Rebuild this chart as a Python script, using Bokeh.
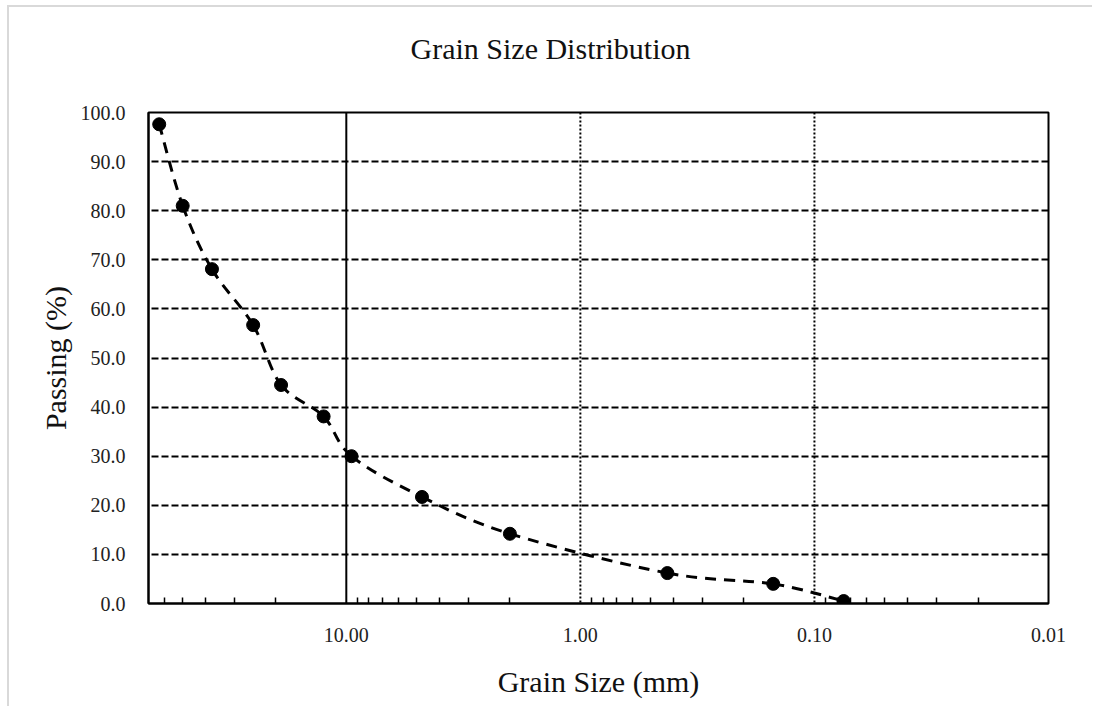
import numpy as np
from bokeh.plotting import figure
from bokeh.models import Range1d, FixedTicker, PrintfTickFormatter, Span, Title
from bokeh.embed import file_html
from bokeh.resources import INLINE

# ---- data ----
grain_size_mm = [63.0, 50.0, 37.5, 25.0, 19.0, 12.5, 9.5, 4.75, 2.0, 0.425, 0.15, 0.075]
passing_pct = [97.6, 81.0, 68.1, 56.7, 44.5, 38.1, 30.0, 21.7, 14.2, 6.2, 4.0, 0.5]
x_major_ticks = [10, 1, 0.1, 0.01]
x_tick_labels = ["10.00", "1.00", "0.10", "0.01"]
y_ticks = [0, 10, 20, 30, 40, 50, 60, 70, 80, 90, 100]
title_text = "Grain Size Distribution"
x_title = "Grain Size (mm)"
y_title = "Passing (%)"

FONT = "Liberation Serif"

p = figure(
    width=1085, height=701,
    x_axis_type="log",
    x_range=Range1d(70, 0.01),
    y_range=Range1d(0, 100),
    output_backend="svg",
    toolbar_location=None,
    min_border_left=139, min_border_right=46,
    min_border_top=105, min_border_bottom=105,
)
p.margin = (5, 0, 0, 7)
p.styles = {"border-top": "2px solid #d9d9d9", "border-left": "2px solid #d9d9d9"}
p.background_fill_color = "white"
p.border_fill_color = "white"
p.outline_line_color = "black"
p.outline_line_width = 2

# chart title (outermost in the top panel)
p.title.text = title_text
p.title.align = "left"
p.title.offset = 262
p.title.text_font = FONT
p.title.text_font_size = "30px"
p.title.text_font_style = "normal"
p.title.text_color = "#111111"

# empty spacer between title and frame
p.add_layout(Title(text=" ", text_font=FONT, text_font_size="28px"), "above")

# x axis
minor = []
for dec in [10, 1, 0.1, 0.01]:
    for k in range(2, 10):
        v = dec * k
        if v < 70:
            minor.append(v)
p.xaxis.ticker = FixedTicker(ticks=x_major_ticks, minor_ticks=minor)
p.xaxis.major_label_overrides = {t: s for t, s in zip(x_major_ticks, x_tick_labels)}
p.xaxis.major_tick_in = 0
p.xaxis.major_tick_out = 0
p.xaxis.minor_tick_in = 6
p.xaxis.minor_tick_out = 0
p.xaxis.minor_tick_line_color = "black"
p.xaxis.minor_tick_line_width = 1.5
p.xaxis.axis_line_color = "black"
p.xaxis.axis_line_width = 2
p.xaxis.major_label_standoff = 24
p.xaxis.axis_label = x_title
p.xaxis.axis_label_standoff = 20
p.xaxis.axis_label_text_font = FONT
p.xaxis.axis_label_text_font_size = "30px"
p.xaxis.axis_label_text_font_style = "normal"
p.xaxis.axis_label_text_color = "#111111"
p.xaxis.major_label_text_font = FONT
p.xaxis.major_label_text_font_size = "20px"
p.xaxis.major_label_text_color = "#222222"

# y axis
p.yaxis.ticker = FixedTicker(ticks=y_ticks)
p.yaxis.formatter = PrintfTickFormatter(format="%.1f")
p.yaxis.major_tick_in = 0
p.yaxis.major_tick_out = 0
p.yaxis.minor_tick_in = 0
p.yaxis.minor_tick_out = 0
p.yaxis.axis_line_color = "black"
p.yaxis.axis_line_width = 2
p.yaxis.major_label_standoff = 23
p.yaxis.axis_label = y_title
p.yaxis.axis_label_standoff = 6
p.yaxis.axis_label_text_font = FONT
p.yaxis.axis_label_text_font_size = "30px"
p.yaxis.axis_label_text_font_style = "normal"
p.yaxis.axis_label_text_color = "#111111"
p.yaxis.major_label_text_font = FONT
p.yaxis.major_label_text_font_size = "20px"
p.yaxis.major_label_text_color = "#222222"

# grids
p.xgrid.grid_line_color = None
p.ygrid.ticker = FixedTicker(ticks=y_ticks)
p.ygrid.grid_line_color = "black"
p.ygrid.grid_line_width = 2
p.ygrid.grid_line_dash = "7 3"

p.add_layout(Span(location=10, dimension="height", line_color="black", line_width=2))
for loc in [1, 0.1]:
    p.add_layout(Span(location=loc, dimension="height", line_color="black",
                      line_width=2, line_dash="2 2"))

# smoothed (Excel-like) dashed curve through the points
lx = np.log10(np.array(grain_size_mm))
ly = np.array(passing_pct)
n = len(lx)
x0, y0, x1, y1, cx0, cy0, cx1, cy1 = ([] for _ in range(8))
for i in range(n - 1):
    a = max(i - 1, 0)
    d = min(i + 2, n - 1)
    c1x = lx[i] + (lx[i + 1] - lx[a]) / 6.0
    c1y = ly[i] + (ly[i + 1] - ly[a]) / 6.0
    c2x = lx[i + 1] - (lx[d] - lx[i]) / 6.0
    c2y = ly[i + 1] - (ly[d] - ly[i]) / 6.0
    x0.append(10 ** lx[i]); y0.append(ly[i])
    x1.append(10 ** lx[i + 1]); y1.append(ly[i + 1])
    cx0.append(10 ** c1x); cy0.append(c1y)
    cx1.append(10 ** c2x); cy1.append(c2y)
p.bezier(x0=x0, y0=y0, x1=x1, y1=y1, cx0=cx0, cy0=cy0, cx1=cx1, cy1=cy1,
         line_color="black", line_width=3, line_dash="11 8")

p.scatter(grain_size_mm, passing_pct, size=13, color="black")

open("out.html", "w").write(file_html(p, INLINE))
